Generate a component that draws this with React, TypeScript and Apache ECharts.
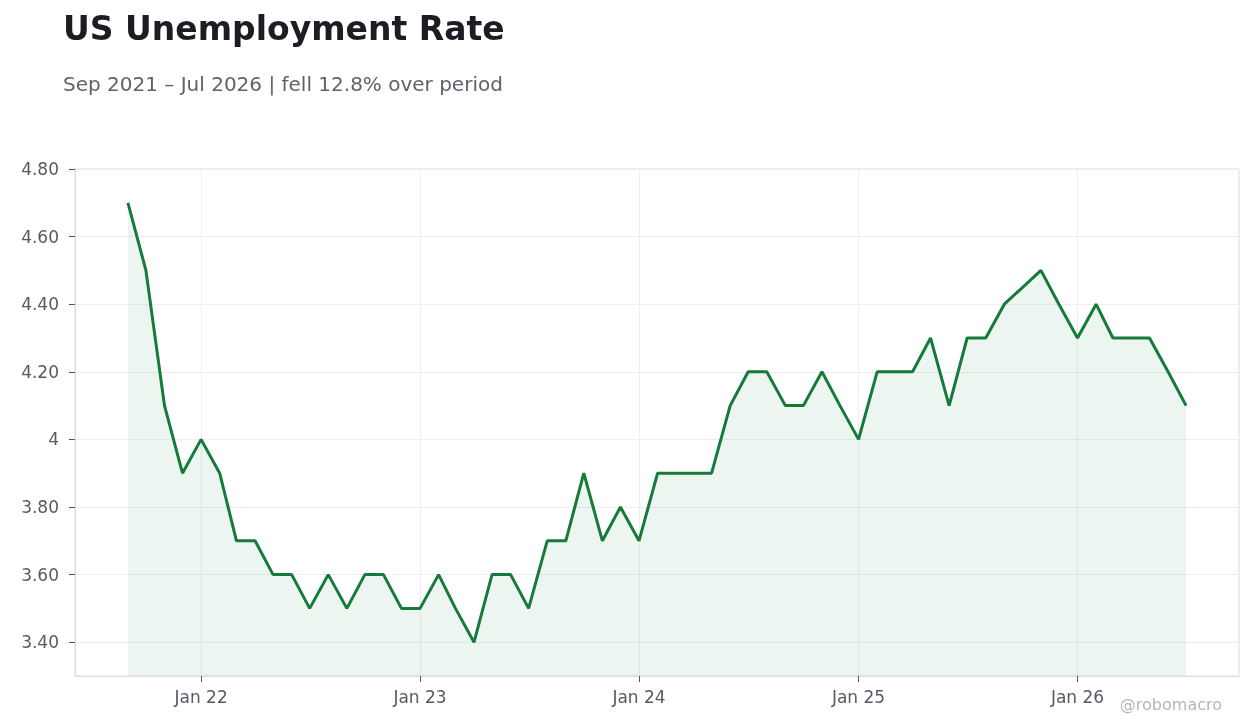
import { useEffect, useRef } from "react";
import * as echarts from "echarts";

// monthly readings, Oct 2025 has no reading
const months = [
  "2021-09", "2021-10", "2021-11", "2021-12",
  "2022-01", "2022-02", "2022-03", "2022-04", "2022-05", "2022-06",
  "2022-07", "2022-08", "2022-09", "2022-10", "2022-11", "2022-12",
  "2023-01", "2023-02", "2023-03", "2023-04", "2023-05", "2023-06",
  "2023-07", "2023-08", "2023-09", "2023-10", "2023-11", "2023-12",
  "2024-01", "2024-02", "2024-03", "2024-04", "2024-05", "2024-06",
  "2024-07", "2024-08", "2024-09", "2024-10", "2024-11", "2024-12",
  "2025-01", "2025-02", "2025-03", "2025-04", "2025-05", "2025-06",
  "2025-07", "2025-08", "2025-09", "2025-11", "2025-12",
  "2026-01", "2026-02", "2026-03", "2026-04", "2026-05", "2026-06",
  "2026-07",
];
const rates = [
  4.7, 4.5, 4.1, 3.9,
  4.0, 3.9, 3.7, 3.7, 3.6, 3.6,
  3.5, 3.6, 3.5, 3.6, 3.6, 3.5,
  3.5, 3.6, 3.5, 3.4, 3.6, 3.6,
  3.5, 3.7, 3.7, 3.9, 3.7, 3.8,
  3.7, 3.9, 3.9, 3.9, 3.9, 4.1,
  4.2, 4.2, 4.1, 4.1, 4.2, 4.1,
  4.0, 4.2, 4.2, 4.2, 4.3, 4.1,
  4.3, 4.3, 4.4, 4.5, 4.4,
  4.3, 4.4, 4.3, 4.3, 4.3, 4.2,
  4.1,
];
const yTicks = [3.4, 3.6, 3.8, 4.0, 4.2, 4.4, 4.6, 4.8];

const FONT = "DejaVu Sans";
const GREEN = "#157a3a";

const toTime = (ym: string) => {
  const [y, m] = ym.split("-").map(Number);
  return new Date(y, m - 1, 1).getTime();
};

const App = () => {
  const chartRef = useRef<HTMLDivElement>(null);

  useEffect(() => {
    if (!chartRef.current) return;
    const chart = echarts.init(chartRef.current, null, { renderer: "svg" });

    const times = months.map(toTime);
    const first = times[0];
    const last = times[times.length - 1];
    const pad = (last - first) * 0.05;

    chart.setOption({
      animation: false,
      textStyle: { fontFamily: FONT },
      title: [
        {
          text: "US Unemployment Rate",
          left: 63,
          top: 12,
          padding: 0,
          textStyle: { fontSize: 33, fontWeight: "bold", color: "#1c1c22", fontFamily: FONT },
        },
        {
          text: "Sep 2021 – Jul 2026 | fell 12.8% over period",
          left: 63,
          top: 74,
          padding: 0,
          textStyle: { fontSize: 20, fontWeight: "normal", color: "#5f626c", fontFamily: FONT },
        },
      ],
      grid: {
        left: 75,
        right: 21,
        top: 169,
        bottom: 52,
        show: true,
        borderColor: "#dddddd",
        borderWidth: 1,
      },
      xAxis: {
        type: "time",
        min: first - pad,
        max: last + pad,
        splitNumber: 5,
        axisLine: { show: true, lineStyle: { color: "#dddddd" } },
        axisTick: { show: true, length: 6, lineStyle: { color: "#555555" } },
        axisLabel: {
          margin: 12,
          fontSize: 17,
          color: "#555a64",
          fontFamily: FONT,
          showMinLabel: false,
          showMaxLabel: false,
          formatter: (v: number) => {
            const d = new Date(v);
            if (d.getMonth() !== 0 || d.getDate() !== 1) return "";
            return `Jan ${String(d.getFullYear()).slice(2)}`;
          },
        },
        splitLine: { show: true, lineStyle: { color: "#eeeeee" } },
      },
      yAxis: {
        type: "value",
        min: 3.3,
        max: 4.8,
        splitNumber: 7,
        axisLine: { show: true, lineStyle: { color: "#dddddd" } },
        axisTick: {
          show: true,
          length: 6,
          customValues: yTicks,
          lineStyle: { color: "#555555" },
        },
        axisLabel: {
          customValues: yTicks,
          margin: 16,
          fontSize: 17,
          color: "#555a64",
          fontFamily: FONT,
          formatter: (v: number) =>
            Math.abs(v - Math.round(v)) < 1e-9 ? String(Math.round(v)) : v.toFixed(2),
        },
        splitLine: { show: true, lineStyle: { color: "#eeeeee" } },
      },
      series: [
        {
          type: "line",
          data: times.map((t, i) => [t, rates[i]]),
          showSymbol: false,
          lineStyle: { color: GREEN, width: 3 },
          itemStyle: { color: GREEN },
          areaStyle: { color: GREEN, opacity: 0.08, origin: "start" },
        },
      ],
      graphic: [
        {
          type: "text",
          right: 38,
          top: 696,
          style: {
            text: "@robomacro",
            fontSize: 16,
            fontFamily: FONT,
            fill: "#b5b6bc",
          },
        },
      ],
    });

    return () => {
      chart.dispose();
    };
  }, []);

  return (
    <div
      ref={chartRef}
      style={{ position: "fixed", left: 0, top: 0, width: 1260, height: 728 }}
    />
  );
};

export default App;
